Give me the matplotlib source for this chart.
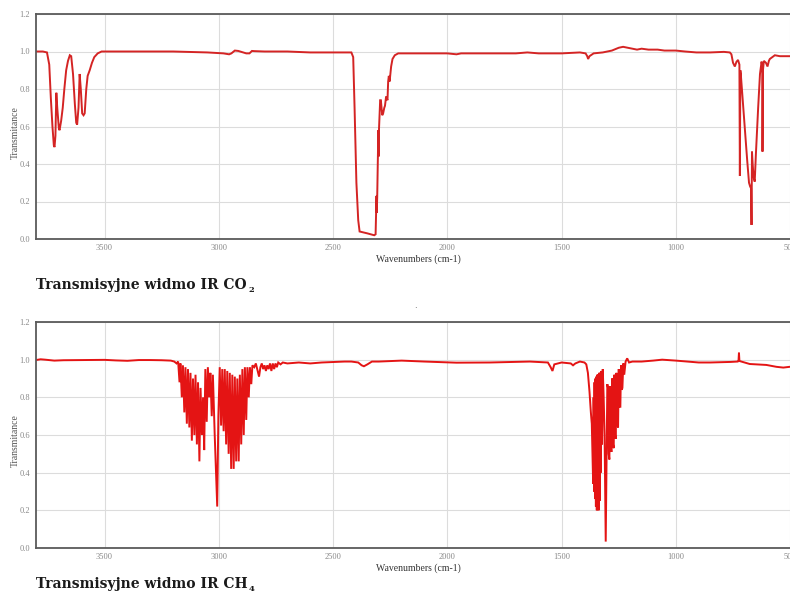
import matplotlib.pyplot as plt

# ---- CO2 transmission spectrum (wavenumber cm-1, transmittance) ----
co2_wn = [
    3800, 3770, 3752, 3742, 3735, 3728, 3722, 3719, 3715, 3711,
    3707, 3700, 3697, 3690, 3683, 3676, 3668, 3660, 3652, 3646,
    3638, 3630, 3624, 3620, 3614, 3609, 3604, 3598, 3592, 3587,
    3580, 3574, 3565, 3555, 3545, 3530, 3513, 3400, 3200, 3050,
    2980, 2955, 2945, 2930, 2915, 2880, 2866, 2855, 2845, 2800,
    2700, 2600, 2450, 2420, 2412, 2406, 2398, 2390, 2384, 2350,
    2320, 2314, 2312, 2310, 2309, 2307, 2304, 2302, 2301, 2299,
    2294, 2291, 2285, 2281, 2276, 2273, 2268, 2265, 2262, 2259,
    2256, 2253, 2251, 2246, 2240, 2230, 2215, 2190, 2100, 2000,
    1960, 1940, 1800, 1700, 1650, 1600, 1500, 1420, 1395, 1388,
    1384, 1378, 1360, 1320, 1280, 1250, 1231, 1210, 1190, 1170,
    1150, 1120, 1080, 1050, 1000, 960, 910, 850, 790, 764,
    757, 750, 742, 735, 728, 722, 720, 718, 716, 705,
    695, 688, 680, 675, 671, 669, 667, 664, 660, 655,
    650, 640, 632, 625, 622, 621, 619, 615, 606, 599,
    593, 589, 567, 545, 502, 400,
]
co2_t = [
    1.00, 1.00, 0.995, 0.93, 0.75, 0.60, 0.50, 0.49, 0.55, 0.78,
    0.70, 0.59, 0.58, 0.63, 0.70, 0.80, 0.90, 0.95, 0.98, 0.975,
    0.88, 0.72, 0.62, 0.61, 0.70, 0.88, 0.80, 0.67, 0.66, 0.67,
    0.80, 0.87, 0.90, 0.94, 0.97, 0.99, 1.00, 1.00, 1.00, 0.995,
    0.99, 0.985, 0.99, 1.005, 1.003, 0.99, 0.99, 1.003, 1.002, 1.00,
    1.00, 0.995, 0.995, 0.995, 0.97, 0.70, 0.30, 0.10, 0.04, 0.03,
    0.02, 0.025, 0.13, 0.23, 0.14, 0.22, 0.43, 0.58, 0.44, 0.59,
    0.74, 0.74, 0.66, 0.67, 0.70, 0.71, 0.76, 0.75, 0.74, 0.84,
    0.87, 0.84, 0.86, 0.92, 0.96, 0.98, 0.99, 0.99, 0.99, 0.99,
    0.985, 0.99, 0.99, 0.99, 0.995, 0.99, 0.99, 0.995, 0.99, 0.975,
    0.96, 0.975, 0.99, 0.995, 1.005, 1.02, 1.025, 1.02, 1.015, 1.01,
    1.015, 1.01, 1.01, 1.005, 1.005, 1.00, 0.995, 0.995, 0.998, 0.995,
    0.985, 0.94, 0.92, 0.945, 0.955, 0.93, 0.336, 0.90, 0.88, 0.70,
    0.53, 0.42, 0.30, 0.28, 0.27, 0.075, 0.466, 0.40, 0.33, 0.306,
    0.45, 0.70, 0.88, 0.946, 0.92, 0.466, 0.90, 0.95, 0.94, 0.92,
    0.95, 0.96, 0.98, 0.975, 0.975, 0.975,
]

# ---- CH4 transmission spectrum ----
ch4_wn = [
    3800, 3780, 3760, 3720, 3680, 3600, 3500, 3450, 3400, 3350,
    3300, 3250, 3210, 3195, 3185, 3178, 3172, 3168, 3162, 3157,
    3151, 3146, 3140, 3135, 3129, 3124, 3118, 3113, 3107, 3102,
    3096, 3091, 3085, 3080, 3074, 3069, 3064, 3059, 3053, 3048,
    3042, 3037, 3031, 3026, 3018, 3012, 3007, 3002, 2996, 2990,
    2985, 2979, 2974, 2968, 2963, 2957, 2952, 2946, 2941, 2935,
    2930, 2924, 2919, 2913, 2908, 2902, 2897, 2891, 2886, 2880,
    2875, 2869, 2864, 2858, 2853, 2845, 2838, 2830, 2824, 2818,
    2812, 2806, 2800, 2794, 2788, 2782, 2776, 2770, 2764, 2758,
    2752, 2746, 2740, 2730, 2720, 2700, 2650, 2600, 2550, 2450,
    2420, 2390, 2375, 2365, 2350, 2330, 2300, 2200, 2100, 1960,
    1814, 1639, 1560, 1548, 1540, 1532, 1500, 1460, 1450, 1440,
    1420, 1400, 1392, 1385, 1378, 1372, 1368, 1364, 1362, 1360,
    1358, 1356, 1354, 1352, 1350, 1348, 1346, 1344, 1342, 1340,
    1338, 1336, 1334, 1332, 1329, 1326, 1323, 1320, 1316, 1312,
    1309, 1307, 1304, 1300, 1297, 1294, 1291, 1288, 1285, 1282,
    1279, 1275, 1272, 1269, 1266, 1263, 1260, 1256, 1253, 1250,
    1246, 1243, 1240, 1237, 1234, 1230, 1226, 1220, 1213, 1205,
    1190, 1150, 1100, 1060, 1000, 950, 900, 850, 760, 730,
    726, 724, 722, 700, 677, 650, 604, 560, 530, 502,
    400,
]
ch4_t = [
    0.998, 1.002, 1.00, 0.995, 0.997, 0.998, 0.999, 0.996, 0.994, 0.998,
    0.998, 0.997, 0.995, 0.99, 0.98, 0.99, 0.88, 0.98, 0.80, 0.97,
    0.72, 0.96, 0.66, 0.95, 0.64, 0.93, 0.57, 0.90, 0.60, 0.92,
    0.55, 0.88, 0.46, 0.85, 0.60, 0.80, 0.52, 0.95, 0.67, 0.96,
    0.80, 0.93, 0.70, 0.92, 0.60, 0.40, 0.22, 0.70, 0.96, 0.65,
    0.95, 0.62, 0.95, 0.55, 0.94, 0.50, 0.93, 0.42, 0.92, 0.42,
    0.91, 0.46, 0.90, 0.46, 0.92, 0.55, 0.95, 0.60, 0.96, 0.68,
    0.96, 0.80, 0.96, 0.87, 0.97, 0.96, 0.98, 0.94, 0.91, 0.96,
    0.98, 0.95, 0.97, 0.94, 0.97, 0.95, 0.98, 0.94, 0.98, 0.95,
    0.98, 0.96, 0.985, 0.975, 0.985, 0.98, 0.985, 0.98, 0.985, 0.99,
    0.99, 0.985, 0.97, 0.965, 0.975, 0.99, 0.99, 0.995, 0.99, 0.984,
    0.985, 0.99, 0.985, 0.96, 0.94, 0.975, 0.985, 0.98, 0.97, 0.98,
    0.99, 0.985, 0.975, 0.93, 0.83, 0.72, 0.66, 0.45, 0.34, 0.80,
    0.30, 0.88, 0.26, 0.90, 0.22, 0.91, 0.20, 0.92, 0.21, 0.92,
    0.20, 0.93, 0.25, 0.93, 0.40, 0.94, 0.55, 0.95, 0.80, 0.60,
    0.25, 0.034, 0.40, 0.87, 0.85, 0.50, 0.47, 0.86, 0.55, 0.51,
    0.90, 0.55, 0.53, 0.92, 0.60, 0.58, 0.93, 0.66, 0.64, 0.95,
    0.75, 0.75, 0.97, 0.84, 0.85, 0.98, 0.92, 0.99, 1.007, 0.985,
    0.99, 0.99, 0.995, 1.00, 0.995, 0.99, 0.985, 0.985, 0.988, 0.99,
    0.992, 1.037, 0.993, 0.985, 0.977, 0.975, 0.972, 0.962, 0.958, 0.962,
    0.962,
]

x_ticks = [3500, 3000, 2500, 2000, 1500, 1000, 500]
y_ticks = [0.0, 0.2, 0.4, 0.6, 0.8, 1.0, 1.2]
titles = ["Transmisyjne widmo IR CO", "Transmisyjne widmo IR CH"]
subscripts = ["2", "4"]

W, H = 790, 594
fig = plt.figure(figsize=(W / 100, H / 100), dpi=100)

serif = ["Liberation Serif", "DejaVu Serif"]


def spectrum_axes(top_px, bottom_px, wn, t, color):
    left_px, right_px = 36, 813
    ax = fig.add_axes([left_px / W, 1 - bottom_px / H,
                       (right_px - left_px) / W, (bottom_px - top_px) / H])
    ax.plot(wn, t, color=color, lw=1.4, solid_joinstyle="miter")
    ax.set_xlim(3800, 400)
    ax.set_ylim(0, 1.2)
    ax.set_xticks(x_ticks)
    ax.set_yticks(y_ticks)
    ax.set_xticklabels([str(v) for v in x_ticks])
    ax.set_yticklabels([f"{v:.1f}" for v in y_ticks])
    ax.grid(True, color="#dcdcdc", lw=0.8)
    ax.set_axisbelow(True)
    ax.tick_params(length=0, labelsize=6, labelcolor="#888888")
    ax.tick_params(axis="y", pad=4.5)
    ax.tick_params(axis="x", pad=3.5)
    for lab in ax.get_xticklabels() + ax.get_yticklabels():
        lab.set_family(serif)
    for side in ["top", "left", "bottom"]:
        ax.spines[side].set_color("#5a5a5a")
        ax.spines[side].set_linewidth(1.3)
    ax.spines["right"].set_visible(False)
    ax.set_xlabel("Wavenumbers (cm-1)", family=serif, fontsize=7, color="#333333", va="center")
    ax.xaxis.set_label_coords((418 - left_px) / (right_px - left_px), -20 / (bottom_px - top_px))
    ax.set_ylabel("Transmitance", family=serif, fontsize=7, color="#555555", va="center")
    ax.yaxis.set_label_coords(-20.5 / (right_px - left_px), 0.475)
    return ax


ax1 = spectrum_axes(14, 239, co2_wn, co2_t, "#d42424")
ax2 = spectrum_axes(322, 548, ch4_wn, ch4_t, "#e41414")

for title, sub, base_px in zip(titles, subscripts, [289, 588]):
    txt = fig.text(36 / W, 1 - base_px / H, title, family=["DejaVu Serif"],
                   fontweight="bold", fontsize=10, color="#1a1a1a", va="baseline")
    fig.canvas.draw()
    plt.annotate(sub, xy=(1, 0), xycoords=txt, xytext=(1, 1.5), textcoords="offset points",
                 family=["DejaVu Serif"], fontweight="bold", fontsize=6, color="#1a1a1a",
                 va="center", ha="left", annotation_clip=False)

fig.text(415 / W, 1 - 305 / H, ".", fontsize=6, color="#444444", ha="center", va="center")

fig.savefig("out.png", dpi=100)
